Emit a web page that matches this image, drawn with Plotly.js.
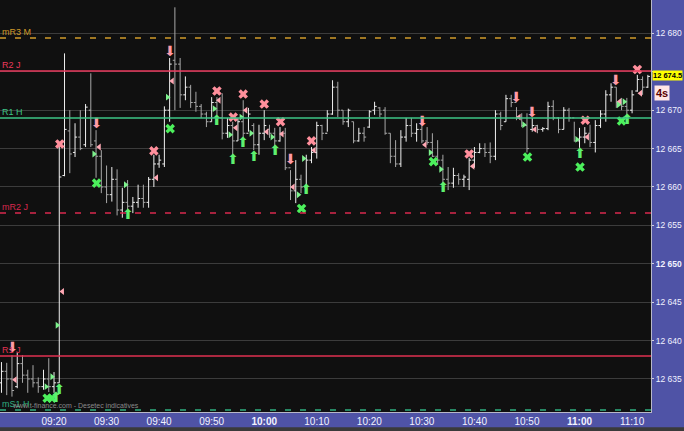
<!DOCTYPE html>
<html><head><meta charset="utf-8">
<script src="https://cdn.plot.ly/plotly-3.0.1.min.js"></script>
<style>html,body{margin:0;padding:0;background:#4f53a6;}#c{width:684px;height:431px;}</style>
</head><body><div id="c"></div>
<script>
// minutes after 09:00, one bar per minute
const minutes = [];
for (let m = 10; m <= 133; m++) minutes.push(m);

const opens = [12634.5,12636,12635,12634,12637,12635.5,12635,12634.5,12634,12635,12634,12634.5,12661.5,12667.3,12664.5,12666.5,12665.5,12670,12666,12664,12660,12659,12661,12657,12658,12657.5,12658,12658.5,12658,12661,12663,12663,12670,12676.5,12676,12672,12673,12671,12670.5,12669.5,12668.5,12671,12669,12667,12668,12666,12668.5,12667,12668,12665.5,12667,12667.5,12667,12666,12667,12662.5,12659.5,12661,12660,12663.5,12664.5,12668,12667,12669.5,12673,12670,12668.5,12668.5,12666,12667,12667.8,12670,12670.3,12670,12667,12664,12663,12666.5,12668,12667,12667.5,12666,12665.8,12664,12663.5,12661,12660.5,12661.5,12661,12661,12663.5,12664.5,12665,12664.5,12664,12669.5,12668.5,12671.5,12671,12669,12668,12667.5,12668,12667.5,12667.6,12670.5,12669,12667.5,12670,12669,12666,12666.5,12667,12665.8,12668,12669.5,12672,12673,12671,12670.5,12670,12672.5,12674,12673];
const highs = [12637.2,12637.1,12638.1,12638.4,12638.1,12636.2,12636.8,12635.2,12636.2,12637.7,12635.9,12665.5,12677.4,12670.0,12668.3,12670,12670.8,12674.8,12667.4,12664.8,12662.8,12662.6,12662.3,12659.9,12660.9,12658.7,12660.3,12660.3,12661.3,12664.2,12664.2,12670.5,12676.8,12683.4,12676.8,12674.4,12673.3,12672.4,12670.8,12669.8,12671.7,12671.7,12672.2,12669,12668.5,12669,12671.3,12670.3,12668.3,12668.1,12670,12668.1,12667.7,12667.8,12667.7,12662.2,12663.5,12661.6,12664.2,12665.2,12668.5,12668.1,12670,12673.9,12673.7,12670,12670.2,12668.5,12667.7,12667.8,12670,12671.1,12670.4,12670.4,12667,12666.1,12667.4,12669,12669,12668.3,12668.3,12667.8,12667,12666.1,12664.2,12662.6,12662.5,12661.8,12661.6,12663.8,12665.2,12665.7,12665.7,12665.8,12670,12669.8,12672,12672,12670.4,12669.6,12669.6,12669,12668.1,12667.8,12671.1,12671.3,12669.1,12670.4,12670.3,12668.5,12667.7,12667.8,12668.1,12668.7,12670,12672.6,12673.5,12673,12671.6,12671.6,12672.6,12674.6,12674.4,12674.6];
const lows = [12633.2,12632.9,12632.7,12633.8,12634.5,12633.2,12633.9,12633.2,12633.6,12633.3,12633.2,12634.5,12661.4,12661.8,12663.9,12664.8,12665.2,12665.2,12661.2,12659.2,12657.9,12658.1,12656.3,12656.0,12656.6,12656.6,12657.3,12657.3,12657.3,12660,12662.5,12662.6,12668.5,12670.0,12670.3,12671.3,12670.3,12669.8,12669,12667.8,12668.5,12668.1,12666.2,12666.4,12664.2,12666,12666.1,12667.2,12664.8,12664.2,12666.1,12666.4,12665.1,12665.9,12662.2,12658.3,12657.9,12659.2,12660,12663.1,12663.7,12666.1,12667.2,12669.4,12669.1,12668.1,12667.8,12665.7,12665.9,12665.9,12667.7,12669.4,12669.1,12666.8,12663.1,12662.6,12662.6,12665.9,12666.5,12665.9,12665.7,12665.5,12663.9,12662.9,12660.5,12659.6,12659.9,12660.3,12660.0,12659.6,12662.5,12664.4,12663.9,12663.1,12663.5,12667.4,12668.5,12670.4,12668.7,12667.8,12664.5,12667.2,12667,12667.2,12667.4,12668.7,12667,12667.5,12668.5,12665.9,12665.1,12665.7,12665.2,12664.5,12667.7,12668.5,12671.1,12670.3,12670,12669.4,12669.6,12672.4,12672,12672.9];
const closes = [12636,12635,12633.5,12637,12635.5,12635,12634.5,12634,12635,12634,12634.5,12661.3,12667.5,12664.3,12666.5,12665,12670.4,12665.5,12664,12660,12659,12661,12657,12658,12657.5,12658,12658.5,12658,12661,12663,12663.5,12670,12676,12676,12672,12673,12671,12670.5,12669.5,12668.5,12671,12669,12667,12668,12666,12668.5,12667,12669.5,12665.5,12667,12668,12667,12666,12667,12662.5,12659.5,12661,12660,12663.5,12664.5,12668,12667,12669.5,12673,12670,12668.5,12670,12666,12667,12666.5,12669.8,12670.5,12669.5,12667,12664,12663,12666.5,12668,12667,12667.5,12666,12665.8,12664,12663.5,12661,12660.5,12661.5,12661,12661.3,12663.5,12664.5,12665,12664.5,12664,12669.5,12668,12671.5,12671,12669,12668,12665,12668,12667.5,12667.6,12670.5,12669,12667.5,12670,12669,12666,12666.5,12667,12665.8,12668,12669.5,12672,12673,12671,12670.5,12670,12672,12674,12673,12674.4];

// signal markers (minute, price)
const pinkXTime  = [21.1,39.0,51.0,54.1,56.0,60.0,63.1,69.0,99.0,121.1,131.0];
const pinkXPrice = [12665.6,12664.7,12672.5,12669.1,12672.1,12670.8,12668.5,12666.0,12664.3,12668.7,12675.3];
const greenXTime  = [18.7,19.6,28.1,42.1,67.1,92.2,110.1,120.1,128.0];
const greenXPrice = [12632.5,12632.5,12660.5,12667.6,12657.2,12663.3,12663.9,12662.6,12668.6];
const downArrTime  = [12.1,28.1,42.1,65.0,90.1,108.0,111.0,126.9];
const downArrPrice = [12639.0,12668.1,12677.5,12663.5,12668.4,12671.5,12669.6,12673.8];
const upArrTime  = [20.4,21.0,34.1,51.0,54.1,56.0,58.1,62.1,68.0,94.1,120.1,129.1];
const upArrPrice = [12632.5,12633.5,12656.3,12668.5,12663.5,12665.7,12663.9,12664.6,12659.5,12659.8,12664.2,12668.6];
const pinkTriTime  = [12.6,21.6,28.6,39.5,42.5,51.4,54.6,56.5,60.5,63.4,65.5,69.5,90.6,99.7,108.5,111.5,121.5,127.6,131.6];
const pinkTriPrice = [12634.9,12646.4,12665.2,12661.2,12673.8,12671.3,12667.7,12670.0,12667.2,12666.9,12660.0,12664.8,12665.5,12662.7,12669.1,12667.5,12666.5,12671.1,12672.2];
const greenTriTime  = [18.5,19.6,20.6,27.6,33.6,41.6,50.5,53.5,55.6,57.5,61.5,66.5,67.5,91.6,93.6,109.4,119.5,127.4,128.5];
const greenTriPrice = [12634.0,12635.3,12642.0,12664.3,12660.3,12671.7,12670.2,12666.8,12669.1,12667.0,12666.5,12659.0,12663.7,12664.5,12662.3,12668.1,12666.2,12670.7,12671.1];

// pivot levels
const levelNames  = ['mR3 M','R2 J','R1 H','mR2 J','R1 J','mS1 H'];
const levelPrices = [12679.4,12675.1,12669.0,12656.6,12638.0,12630.95];
const levelColors = ['#d09a2a','#e8385c','#3cc486','#d8284e','#e03050','#2fae80'];
const levelDash   = ['dash','solid','solid','dash','solid','dash'];

const tickMinutes = [20,30,40,50,60,70,80,90,100,110,120,130];
const tickTimes = ['09:20','09:30','09:40','09:50','<b>10:00</b>','10:10','10:20','10:30','10:40','10:50','<b>11:00</b>','11:10'];
const priceTicks = [12635,12640,12645,12650,12655,12660,12665,12670,12675,12680];
const priceLabels = ['12 635','12 640','12 645','<b>12 650</b>','12 655','12 660','12 665','12 670','','12 680'];
const lastPrice = 12674.5;

const traces = [
  {type:'ohlc', x:minutes, open:opens, high:highs, low:lows, close:closes, tickwidth:0.4,
   increasing:{line:{color:'#f0f0f0',width:1}}, decreasing:{line:{color:'#a8a8a8',width:1}}, hoverinfo:'skip'},
  {type:'scatter', mode:'markers', x:pinkTriTime, y:pinkTriPrice, marker:{symbol:'triangle-left',size:6,color:'#ffa8b4'}},
  {type:'scatter', mode:'markers', x:greenTriTime, y:greenTriPrice, marker:{symbol:'triangle-right',size:6,color:'#7cf08c'}},
  {type:'scatter', mode:'markers', x:pinkXTime, y:pinkXPrice, marker:{symbol:'x',size:8.5,color:'#ff8f9c'}},
  {type:'scatter', mode:'markers', x:greenXTime, y:greenXPrice, marker:{symbol:'x',size:8.5,color:'#4cf05c'}},
  {type:'scatter', mode:'text', x:downArrTime, y:downArrPrice, text:downArrTime.map(()=>'⬇'),
   textfont:{family:'DejaVu Sans',size:14,color:'#ff9aa6'}},
  {type:'scatter', mode:'text', x:upArrTime, y:upArrPrice, text:upArrTime.map(()=>'⬆'),
   textfont:{family:'DejaVu Sans',size:14,color:'#5ef070'}}
];

const shapes = levelPrices.map((p,i)=>({type:'line', xref:'paper', x0:0, x1:1, yref:'y', y0:p, y1:p,
  line:{color:levelColors[i], width:1.5, dash:levelDash[i]==='dash'?'6px,9px':'solid'}}));
shapes.push({type:'rect', xref:'paper', x0:0, x1:1.06, yref:'paper', y0:-0.037, y1:-0.06, fillcolor:'#3a3a3a', line:{width:0}});

const annotations = levelNames.map((n,i)=>({xref:'paper', x:0, xanchor:'left', yref:'y', y:levelPrices[i], yanchor:'bottom',
  text:n, showarrow:false, font:{family:'Liberation Sans',size:9,color:levelColors[i]}, yshift:-1}));
annotations.push({xref:'paper', x:0.015, xanchor:'left', yref:'y', y:12631.6, yanchor:'middle', text:'www.t-finance.com - Desetec indicatives',
  showarrow:false, font:{family:'Liberation Sans',size:7,color:'#8a8a8a'}});
annotations.push({xref:'paper', x:1, xanchor:'left', xshift:1, yref:'y', y:lastPrice, yanchor:'middle', text:'<b>12 674.5</b>',
  showarrow:false, bgcolor:'#ffff00', borderpad:0, font:{family:'Liberation Sans Narrow, Liberation Sans',size:7.5,color:'#000'}});
annotations.push({xref:'paper', x:1, xanchor:'left', xshift:3, yref:'y', y:12672.3, yanchor:'middle', text:'<b>4s</b>',
  showarrow:false, bgcolor:'#ffe6e6', borderpad:1, font:{family:'Liberation Sans',size:11,color:'#5a0000'}});

const layout = {
  width:684, height:431, margin:{l:0,r:33,t:0,b:19},
  paper_bgcolor:'#4f53a6', plot_bgcolor:'#101010', showlegend:false,
  xaxis:{range:[9.72,133.6], tickvals:tickMinutes, ticktext:tickTimes, showgrid:false, zeroline:false,
    rangeslider:{visible:false}, showline:true, linecolor:'#b8b8c8', ticks:'', ticklen:0,
    tickfont:{family:'Liberation Sans',size:10,color:'#f2f2ff'}, fixedrange:true},
  yaxis:{side:'right', range:[12630.7,12684.35], tickvals:priceTicks, ticktext:priceLabels,
    showgrid:true, gridcolor:'#3c3c3c', gridwidth:1, zeroline:false, showline:true, linecolor:'#b8b8c8',
    ticks:'outside', ticklen:2, tickcolor:'#d0d0e0', ticklabelstandoff:0,
    tickfont:{family:'Liberation Sans',size:8.5,color:'#f2f2ff'}, fixedrange:true},
  shapes:shapes, annotations:annotations
};
Plotly.newPlot('c', traces, layout, {displayModeBar:false, staticPlot:true});
</script></body></html>
